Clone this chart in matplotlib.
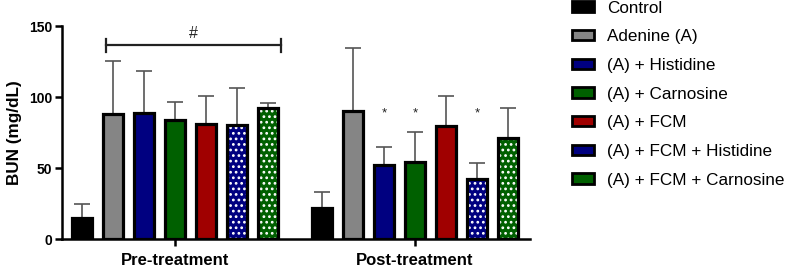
import matplotlib
matplotlib.use("Agg")
import matplotlib.pyplot as plt
from matplotlib.patches import Patch
import numpy as np

plt.rcParams['font.family'] = ['Liberation Sans', 'DejaVu Sans']
plt.rcParams['hatch.linewidth'] = 1.2

groups = ["Pre-treatment", "Post-treatment"]
series = ["Control", "Adenine (A)", "(A) + Histidine", "(A) + Carnosine",
          "(A) + FCM", "(A) + FCM + Histidine", "(A) + FCM + Carnosine"]
pre_mean = [15, 88, 89, 84, 81, 80.5, 92]
pre_err_top = [24.5, 125.5, 118.5, 96.5, 100.5, 106.5, 95.5]
post_mean = [22, 90, 52, 54, 79.5, 42, 71.5]
post_err_top = [33, 134.5, 65, 75.5, 100.5, 53.5, 92]
stars_post = ["", "", "*", "*", "", "*", ""]

colors = ["#000000", "#858585", "#000080", "#006000", "#A00000", "#000080", "#006000"]
dotted = [False, False, False, False, False, True, True]

fig = plt.figure(figsize=(7.85, 2.69), dpi=100)
ax = fig.add_axes([0.079, 0.1115, 0.596, 0.7915])

gap = 7.74
width = 0.64
x_pre = np.arange(7)
x_post = np.arange(7) + gap

for xs, means, tops in [(x_pre, pre_mean, pre_err_top), (x_post, post_mean, post_err_top)]:
    for i in range(7):
        m = means[i]
        ax.errorbar(xs[i], m, yerr=[[0], [tops[i] - m]], fmt='none',
                    ecolor='#555555', elinewidth=1.2, capsize=5.5, capthick=1.2, zorder=1)
        ax.bar(xs[i], m, width=width, color=colors[i], edgecolor='none', zorder=2)
        if dotted[i]:
            ax.bar(xs[i], m, width=width, color='none', edgecolor='white',
                   hatch='...', linewidth=0, zorder=3)
        ax.bar(xs[i], m, width=width, color='none', edgecolor='black',
               linewidth=2.3, zorder=4)

for i, s in enumerate(stars_post):
    if s:
        ax.text(x_post[i], 84, s, ha='center', va='bottom', fontsize=9.5, color='#222222')

# bracket
bl, br, by = 0.78, 6.42, 136.5
ax.plot([bl, br], [by, by], color='#222222', lw=1.6, clip_on=False)
ax.plot([bl, bl], [by - 4.5, by + 4.5], color='#222222', lw=1.6, clip_on=False)
ax.plot([br, br], [by - 4.5, by + 4.5], color='#222222', lw=1.6, clip_on=False)
ax.text((bl + br) / 2, by + 3, "#", ha='center', va='bottom', fontsize=11.5, color='#222222')

ax.set_xlim(-0.645, 14.45)
ax.set_ylim(0, 150)
ax.set_yticks([0, 50, 100, 150])
ax.set_xticks([x_pre.mean(), x_post.mean()])
ax.set_xticklabels(groups, fontsize=12, fontweight='bold')
ax.set_ylabel("BUN (mg/dL)", fontsize=12.3, fontweight='bold', labelpad=5)
for lab in ax.get_yticklabels():
    lab.set_fontweight('bold')
    lab.set_fontsize(10)
for sp in ['top', 'right']:
    ax.spines[sp].set_visible(False)
for sp in ['left', 'bottom']:
    ax.spines[sp].set_linewidth(1.8)
ax.tick_params(axis='both', width=1.8, length=5, direction='out', pad=2)
ax.tick_params(axis='x', pad=5)

handles = []
for i in range(7):
    handles.append(Patch(facecolor=colors[i], edgecolor='black', linewidth=2,
                         label=series[i]))
leg = fig.legend(handles=handles, loc='upper left', bbox_to_anchor=(0.7287, 0.998),
                 frameon=False, fontsize=12.3, handlelength=1.29, handleheight=0.58,
                 labelspacing=0.8, handletextpad=0.76, borderpad=0, borderaxespad=0)

fig.savefig("out.png", dpi=100)
